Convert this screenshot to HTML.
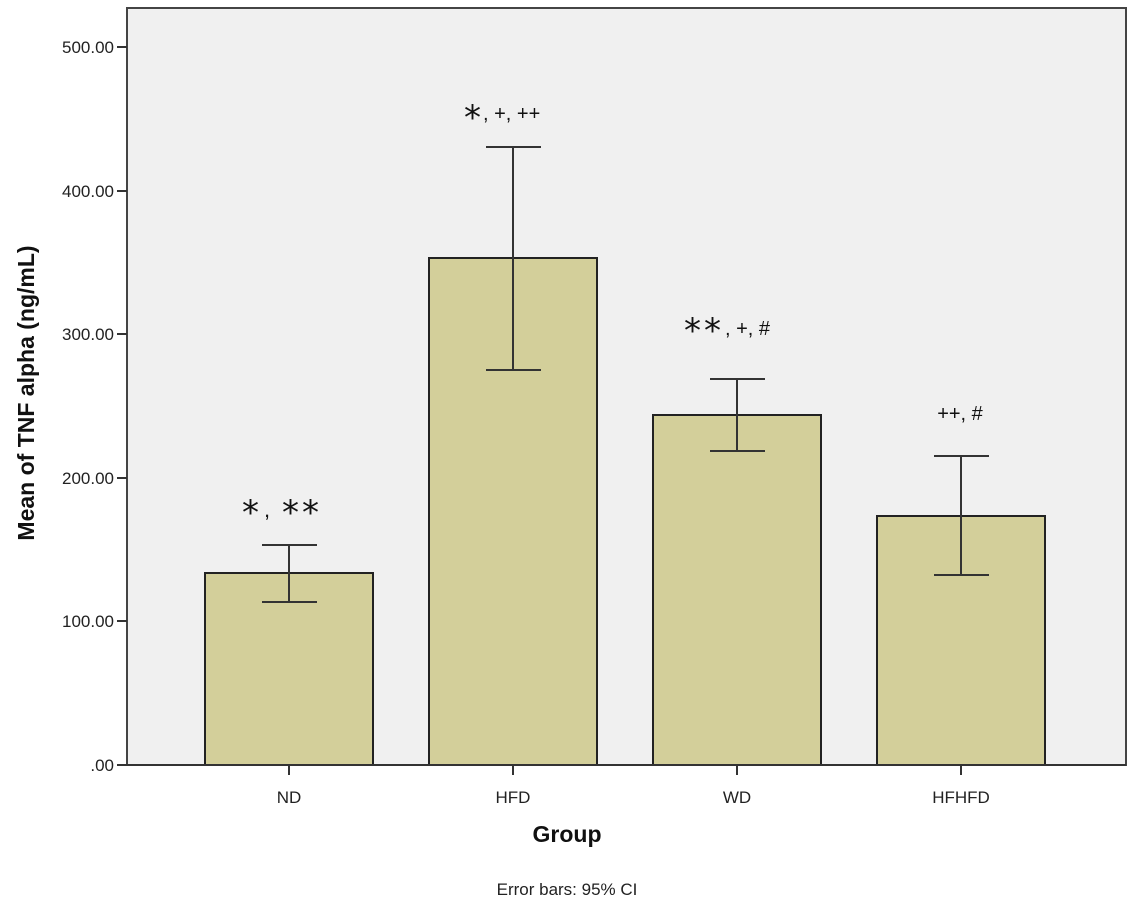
<!DOCTYPE html>
<html><head><style>body{margin:0;background:#fff}</style></head><body>
<svg width="1134" height="910" xmlns="http://www.w3.org/2000/svg" font-family="Liberation Sans, sans-serif">
<rect x="127" y="8" width="999" height="757" fill="#f0f0f0" stroke="#444" stroke-width="2"/>
<g fill="#d3cf9a" stroke="#222" stroke-width="2">
<rect x="205" y="573" width="168" height="192"/>
<rect x="429" y="258" width="168" height="507"/>
<rect x="653" y="415" width="168" height="350"/>
<rect x="877" y="516" width="168" height="249"/>
</g>
<g stroke="#333" stroke-width="2" fill="none">
<path d="M289 545V602M262 545H317M262 602H317"/>
<path d="M513 147V370M486 147H541M486 370H541"/>
<path d="M737 379V451M710 379H765M710 451H765"/>
<path d="M961 456V575M934 456H989M934 575H989"/>
<path d="M127 765H1126"/>
<path d="M117 47H127M117 191H127M117 334H127M117 478H127M117 621H127M117 765H127"/>
<path d="M289 765V775M513 765V775M737 765V775M961 765V775"/>
</g>
<g font-size="17" fill="#222" text-anchor="end">
<text x="114" y="53">500.00</text><text x="114" y="197">400.00</text><text x="114" y="340">300.00</text>
<text x="114" y="484">200.00</text><text x="114" y="627">100.00</text><text x="114" y="771">.00</text>
</g>
<g font-size="17" fill="#222" text-anchor="middle">
<text x="289" y="803">ND</text><text x="513" y="803">HFD</text><text x="737" y="803">WD</text><text x="961" y="803">HFHFD</text>
<text x="567" y="895">Error bars: 95% CI</text>
</g>
<text x="567" y="842" font-size="23" font-weight="bold" text-anchor="middle" fill="#111">Group</text>
<text transform="translate(34 393) rotate(-90)" font-size="23" font-weight="bold" text-anchor="middle" fill="#111">Mean of TNF alpha (ng/mL)</text>
<g fill="#111" font-family="DejaVu Sans, sans-serif" font-size="34">
<text x="242" y="524">*</text>
<text x="282" y="524" letter-spacing="3">**</text>
<text x="464" y="129">*</text>
<text x="684" y="342" letter-spacing="3">**</text>
</g>
<g fill="#111" font-size="22">
<text x="264" y="517">,</text>
<text x="483" y="120" font-size="20">, +, ++</text>
<text x="725" y="335" font-size="20">, +, #</text>
</g>
<text x="960" y="420" font-size="20" fill="#111" text-anchor="middle">++, #</text>
</svg>
</body></html>
